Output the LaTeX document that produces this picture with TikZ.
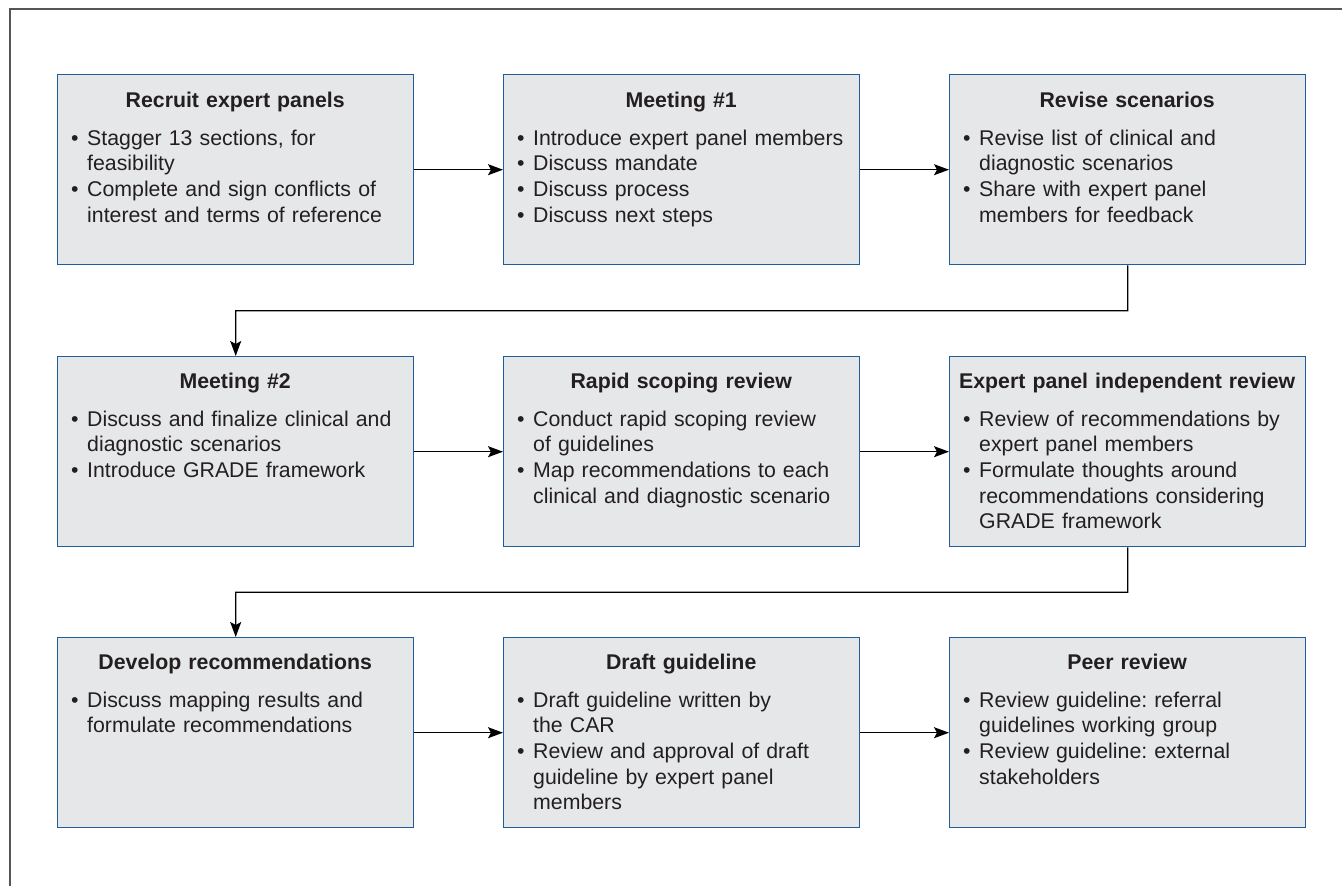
\documentclass[tikz,border=0pt]{standalone}
\usepackage{fontspec}
\setmainfont{Liberation Sans}
\usetikzlibrary{arrows.meta,calc}
\frenchspacing
\definecolor{boxfill}{HTML}{E6E7E8}
\definecolor{boxline}{HTML}{1F5E9E}
\definecolor{txtc}{HTML}{231F20}
\definecolor{framec}{HTML}{555555}
\newcommand{\bitem}[1]{\par\hangindent=16pt\hangafter=1 \makebox[16pt][l]{\textbullet}#1\par}
\newcommand{\btitle}[1]{\makebox[\linewidth][c]{\bfseries #1}\par\vspace{12.3pt}}
\tikzset{
  box/.style={draw=boxline, fill=boxfill, line width=1.4pt, rectangle, minimum width=356pt, minimum height=190pt, inner sep=0pt, anchor=north west},
  txt/.style={anchor=base west, inner sep=0pt, text width=328pt, align=left, text=txtc, font=\fontsize{21.3}{25.7}\selectfont\frenchspacing},
  arr/.style={draw=black, line width=1.3pt, -{Stealth[length=15pt,width=11pt,inset=3pt]}},
}
\begin{document}
\begin{tikzpicture}[x=1pt,y=-1pt]
\useasboundingbox (0,0) rectangle (1342,886);
\draw[framec, line width=2pt] (9.5,890) -- (9.5,8.5) -- (1345,8.5);

% boxes
\node[box] (b1) at (57,74) {};
\node[box] (b2) at (503,74) {};
\node[box] (b3) at (949,74) {};
\node[box] (b4) at (57,356) {};
\node[box] (b5) at (503,356) {};
\node[box] (b6) at (949,356) {};
\node[box] (b7) at (57,637) {};
\node[box] (b8) at (503,637) {};
\node[box] (b9) at (949,637) {};

% texts
\node[txt] (t1) at ($(b1.north west)+(14,33)$) {\btitle{Recruit expert panels}%
\bitem{Stagger 13 sections, for\newline feasibility}%
\bitem{Complete and sign conflicts of\newline interest and terms of reference}};
\node[txt] (t2) at ($(b2.north west)+(14,33)$) {\btitle{Meeting \#1}%
\bitem{Introduce expert panel members}%
\bitem{Discuss mandate}%
\bitem{Discuss process}%
\bitem{Discuss next steps}};
\node[txt] (t3) at ($(b3.north west)+(14,33)$) {\btitle{Revise scenarios}%
\bitem{Revise list of clinical and\newline diagnostic scenarios}%
\bitem{Share with expert panel\newline members for feedback}};
\node[txt] (t4) at ($(b4.north west)+(14,32)$) {\btitle{Meeting \#2}%
\bitem{Discuss and finalize clinical and\newline diagnostic scenarios}%
\bitem{Introduce GRADE framework}};
\node[txt] (t5) at ($(b5.north west)+(14,32)$) {\btitle{Rapid scoping review}%
\bitem{Conduct rapid scoping review\newline of guidelines}%
\bitem{Map recommendations to each\newline clinical and diagnostic scenario}};
\node[txt] (t6) at ($(b6.north west)+(14,32)$) {\btitle{Expert panel independent review}%
\bitem{Review of recommendations by\newline expert panel members}%
\bitem{Formulate thoughts around\newline recommendations considering\newline GRADE framework}};
\node[txt] (t7) at ($(b7.north west)+(14,32)$) {\btitle{Develop recommendations}%
\bitem{Discuss mapping results and\newline formulate recommendations}};
\node[txt] (t8) at ($(b8.north west)+(14,32)$) {\btitle{Draft guideline}%
\bitem{Draft guideline written by\newline the CAR}%
\bitem{Review and approval of draft\newline guideline by expert panel\newline members}};
\node[txt] (t9) at ($(b9.north west)+(14,32)$) {\btitle{Peer review}%
\bitem{Review guideline: referral\newline guidelines working group}%
\bitem{Review guideline: external\newline stakeholders}};

% connectors
\draw[arr] (b1.east) -- (b2.west);
\draw[arr] (b2.east) -- (b3.west);
\draw[arr] (b4.east) -- (b5.west);
\draw[arr] (b5.east) -- (b6.west);
\draw[arr] (b7.east) -- (b8.west);
\draw[arr] (b8.east) -- (b9.west);
\coordinate (m1) at ($(b3.south)!0.5!(b3.south |- b4.north)$);
\coordinate (m2) at ($(b6.south)!0.5!(b6.south |- b7.north)$);
\draw[arr] (b3.south) -- (m1) -| (b4.north);
\draw[arr] (b6.south) -- (m2) -| (b7.north);
\end{tikzpicture}
\end{document}
